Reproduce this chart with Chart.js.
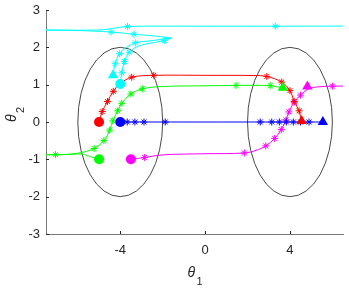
<!DOCTYPE html>
<html>
<head>
<meta charset="utf-8">
<script src="https://cdn.jsdelivr.net/npm/chart.js@4.4.1/dist/chart.umd.min.js"></script>
<style>
    html, body { margin: 0; padding: 0; background: #fff; }
</style>
</head>
<body>
<canvas id="myChart" width="349" height="290"></canvas>
<script>
// axis limits and ticks
const xLimits = [-7.5, 6.5];
const yLimits = [-3, 3];
const xTicks = [-4, 0, 4];
const yTicks = [-3, -2, -1, 0, 1, 2, 3];

// the two target regions (ellipses)
const ellipseCenters = [[-4, 0], [4, 0]];
const ellipseRadii = [2, 2];

// red agent
const redPath = [[-5, 0], [-4.85, 0.28], [-4.6, 0.55], [-4.33, 0.82], [-4.0, 1.03], [-3.46, 1.2], [-2.42, 1.25], [0, 1.25], [2.3, 1.245], [2.91, 1.22], [3.61, 1.07], [4.0, 0.84], [4.2, 0.55], [4.43, 0.3], [4.55, 0.03]];
const redStars = [[-4.85, 0.28], [-4.6, 0.55], [-4.33, 0.82], [-3.46, 1.2], [-2.42, 1.25], [2.91, 1.22], [3.61, 1.07], [4.0, 0.84], [4.2, 0.55], [4.43, 0.3]];
const redStart = [-5, 0];
const redEnd = [4.55, 0.03];

// green agent
const greenPath = [[-5, -1], [-5.4, -0.93], [-5.8, -0.86], [-6.5, -0.87], [-7.05, -0.875], [-7.9, -0.88], [-7.05, -0.875], [-6.3, -0.86], [-5.7, -0.8], [-5.23, -0.71], [-4.77, -0.5], [-4.5, -0.22], [-4.35, 0.03], [-4.12, 0.3], [-3.93, 0.5], [-3.5, 0.75], [-2.96, 0.89], [-2.0, 0.95], [0, 0.97], [1.46, 0.98], [3.07, 0.975], [3.4, 0.94], [3.66, 0.92]];
const greenStars = [[-7.05, -0.875], [-5.23, -0.71], [-4.77, -0.5], [-4.5, -0.22], [-4.35, 0.03], [-4.12, 0.3], [-3.93, 0.5], [-3.5, 0.75], [-2.96, 0.89], [1.46, 0.98], [3.07, 0.975]];
const greenStart = [-5, -1];
const greenEnd = [3.66, 0.92];

// blue agent
const bluePath = [[-4, 0], [5.55, 0]];
const blueStars = [[-3.67, 0], [-3.31, 0], [-2.88, 0], [-1.88, 0], [2.6, 0], [3.14, 0], [3.5, 0], [3.83, 0], [4.16, 0], [4.5, 0], [4.9, 0]];
const blueStart = [-4, 0];
const blueEnd = [5.55, 0];

// magenta agent
const magentaPath = [[-3.5, -1], [-2.85, -0.95], [-2.0, -0.88], [0, -0.85], [1.85, -0.83], [2.4, -0.76], [2.86, -0.64], [3.28, -0.44], [3.59, -0.2], [3.81, 0.05], [3.95, 0.27], [4.2, 0.53], [4.5, 0.72], [4.85, 0.88], [5.3, 0.94], [6.0, 0.96], [7, 0.96]];
const magentaStars = [[-2.85, -0.95], [1.85, -0.83], [2.86, -0.64], [3.28, -0.44], [3.59, -0.2], [3.81, 0.05], [3.95, 0.27], [4.2, 0.53], [4.5, 0.72], [6.0, 0.96]];
const magentaStart = [-3.5, -1];
const magentaEnd = [4.82, 0.95];

// cyan agent (several strands)
const cyanUp = [[-4, 1.02], [-3.93, 1.32], [-3.8, 1.62], [-3.58, 1.87], [-3.2, 2.02], [-2.7, 2.1], [-1.92, 2.18], [-1.58, 2.25]];
const cyanBack = [[-1.58, 2.25], [-2.5, 2.18], [-3.29, 2.12], [-3.75, 1.98], [-4.03, 1.83], [-4.24, 1.56], [-4.34, 1.25]];
const cyanMid = [[-1.58, 2.25], [-2.5, 2.31], [-3.35, 2.35], [-4.43, 2.41], [-6, 2.45], [-7.5, 2.465], [-8, 2.47]];
const cyanTop = [[-8, 2.465], [-5.0, 2.465], [-4.2, 2.52], [-3.66, 2.56], [0, 2.565], [3.31, 2.565], [7, 2.57]];
const cyanStars = [[-3.93, 1.32], [-3.8, 1.62], [-3.58, 1.87], [-1.92, 2.18], [-3.29, 2.12], [-4.03, 1.83], [-4.24, 1.56], [-3.35, 2.35], [-4.43, 2.41], [-3.66, 2.56], [3.31, 2.565]];
const cyanStart = [-4, 1.02];
const cyanEnd = [-4.34, 1.25];

const pts = (arr) => arr.map(([x, y]) => ({ x: x, y: y }));

function lineSet(path, color) {
    return { data: pts(path), showLine: true, borderColor: color, borderWidth: 1, pointRadius: 0, tension: 0.35, order: 3 };
}
function starSet(list, color) {
    return { data: pts(list), showLine: false, pointStyle: "star", pointRadius: 3.5, borderColor: color, borderWidth: 1, order: 2 };
}
function markSet(p, style, color) {
    return { data: pts([p]), showLine: false, pointStyle: style, pointRadius: style === "circle" ? 5 : 6, backgroundColor: color, borderColor: color, borderWidth: 0, order: 1 };
}

const RED = "#ff0000", GREEN = "#00ff00", BLUE = "#0000ff", CYAN = "#00ffff", MAGENTA = "#ff00ff";

const datasets = [
    lineSet(redPath, RED), starSet(redStars, RED),
    lineSet(greenPath, GREEN), starSet(greenStars, GREEN),
    lineSet(bluePath, BLUE), starSet(blueStars, BLUE),
    lineSet(magentaPath, MAGENTA), starSet(magentaStars, MAGENTA),
    lineSet(cyanUp, CYAN), lineSet(cyanBack, CYAN), lineSet(cyanMid, CYAN), lineSet(cyanTop, CYAN), starSet(cyanStars, CYAN),
    markSet(redStart, "circle", RED), markSet(redEnd, "triangle", RED),
    markSet(greenStart, "circle", GREEN), markSet(greenEnd, "triangle", GREEN),
    markSet(blueStart, "circle", BLUE), markSet(blueEnd, "triangle", BLUE),
    markSet(magentaStart, "circle", MAGENTA), markSet(magentaEnd, "triangle", MAGENTA),
    markSet(cyanStart, "circle", CYAN), markSet(cyanEnd, "triangle", CYAN),
];

const FONT = "'Liberation Sans', Arial, sans-serif";
const TEXT = "#262626";

// ellipses behind the trajectories
const ellipsePlugin = {
    id: "ellipses",
    beforeDatasetsDraw(chart) {
        const { ctx, scales: { x, y }, chartArea } = chart;
        ctx.save();
        ctx.beginPath();
        ctx.rect(chartArea.left, chartArea.top, chartArea.width, chartArea.height);
        ctx.clip();
        ctx.strokeStyle = "#333";
        ctx.lineWidth = 0.9;
        ellipseCenters.forEach(([cx, cy]) => {
            const px = x.getPixelForValue(cx);
            const py = y.getPixelForValue(cy);
            const rx = x.getPixelForValue(cx + ellipseRadii[0]) - px;
            const ry = py - y.getPixelForValue(cy + ellipseRadii[1]);
            ctx.beginPath();
            ctx.ellipse(px, py, rx, ry, 0, 0, Math.PI * 2);
            ctx.stroke();
        });
        ctx.restore();
    },
};

// inward ticks and axis titles, matlab style
const axesPlugin = {
    id: "axesDeco",
    afterDraw(chart) {
        const { ctx, scales: { x, y }, chartArea } = chart;
        ctx.save();
        ctx.strokeStyle = TEXT;
        ctx.lineWidth = 1;
        ctx.beginPath();
        xTicks.forEach((v) => {
            const px = Math.round(x.getPixelForValue(v)) + 0.5;
            ctx.moveTo(px, chartArea.bottom);
            ctx.lineTo(px, chartArea.bottom - 3);
        });
        yTicks.forEach((v) => {
            const py = Math.round(y.getPixelForValue(v)) + 0.5;
            ctx.moveTo(chartArea.left, py);
            ctx.lineTo(chartArea.left + 3, py);
        });
        ctx.stroke();

        ctx.fillStyle = TEXT;
        ctx.textBaseline = "alphabetic";
        // x title
        const cx = (chartArea.left + chartArea.right) / 2;
        ctx.font = "italic 14px " + FONT;
        ctx.textAlign = "left";
        ctx.fillText("θ", cx - 7, 276.5);
        ctx.font = "11px " + FONT;
        ctx.fillText("1", cx + 2, 285);
        // y title
        ctx.translate(0, 0);
        ctx.save();
        ctx.translate(16, 122);
        ctx.rotate(-Math.PI / 2);
        ctx.font = "italic 14px " + FONT;
        ctx.fillText("θ", 0, 0);
        ctx.font = "11px " + FONT;
        ctx.fillText("2", 9, 8);
        ctx.restore();
        ctx.restore();
    },
};

new Chart(document.getElementById("myChart"), {
    type: "scatter",
    data: { datasets: datasets },
    options: {
        responsive: false,
        animation: false,
        devicePixelRatio: 1,
        layout: { padding: { top: 10, left: 0, right: 0, bottom: 0 } },
        plugins: { legend: { display: false }, tooltip: { enabled: false } },
        scales: {
            x: {
                type: "linear",
                min: xLimits[0],
                max: xLimits[1],
                afterBuildTicks: (s) => { s.ticks = xTicks.map((v) => ({ value: v })); },
                afterFit: (s) => { s.height = 56; s.paddingLeft = 0; s.paddingRight = 0; },
                ticks: { font: { family: FONT, size: 13 }, color: TEXT, padding: 9, maxRotation: 0, autoSkip: false },
                grid: { drawOnChartArea: false, drawTicks: false },
                border: { color: "#777", width: 1 },
            },
            y: {
                type: "linear",
                min: yLimits[0],
                max: yLimits[1],
                afterBuildTicks: (s) => { s.ticks = yTicks.map((v) => ({ value: v })); },
                afterFit: (s) => { s.width = 46; s.paddingTop = 0; s.paddingBottom = 0; },
                ticks: { font: { family: FONT, size: 13 }, color: TEXT, padding: 6, autoSkip: false },
                grid: { drawOnChartArea: false, drawTicks: false },
                border: { color: "#777", width: 1 },
            },
        },
    },
    plugins: [ellipsePlugin, axesPlugin],
});
</script>
</body>
</html>
